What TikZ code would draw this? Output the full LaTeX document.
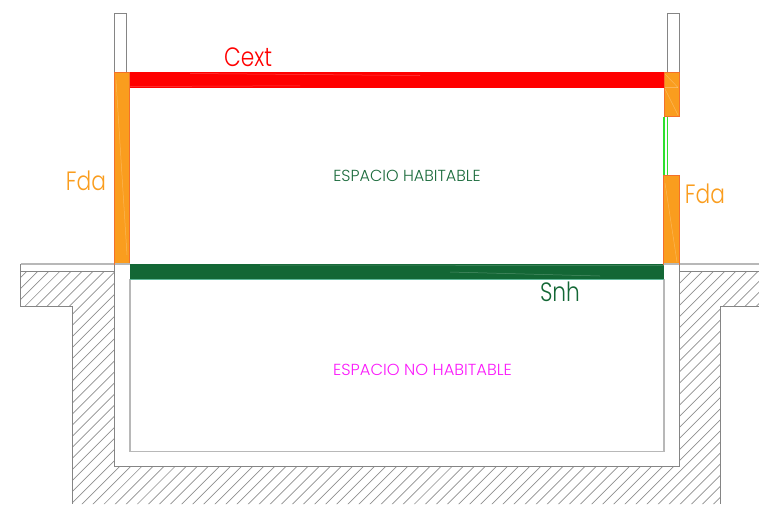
\documentclass[tikz,border=0pt]{standalone}
\usepackage{fontspec}
\setmainfont{Poppins Light}
\definecolor{wallgrey}{HTML}{858585}
\definecolor{lightgrey}{HTML}{B8B8B8}
\definecolor{hatchgrey}{HTML}{8E8E8E}
\definecolor{fdaorange}{HTML}{FA9D1E}
\definecolor{fdaedge}{HTML}{F4702A}
\definecolor{snhgreen}{HTML}{136735}
\definecolor{snhedge}{HTML}{5FB89A}
\definecolor{snhtext}{HTML}{1B6B3C}
\definecolor{noconc}{HTML}{FA18FA}
\definecolor{glass}{HTML}{2EE02E}
\tikzset{
  wall/.style={draw=wallgrey,line width=1pt,fill=white},
  wallline/.style={draw=wallgrey,line width=1pt},
  softline/.style={draw=lightgrey,line width=1.2pt},
  hatchline/.style={draw=hatchgrey,line width=0.7pt},
  fdafill/.style={fill=fdaorange,draw=fdaedge,line width=0.7pt},
  streak/.style={draw=white,opacity=0.25,line width=0.5pt},
  biglabel/.style={font=\fontsize{26.5}{26.5}\selectfont,inner sep=0pt},
  smalllabel/.style={font=\fontsize{16}{16}\selectfont,inner sep=0pt}
}
\newcommand{\narrowed}[1]{\scalebox{0.82}[1]{#1}}
\begin{document}
\begin{tikzpicture}[x=1pt,y=-1pt]
\useasboundingbox (0,0) rectangle (759,504);
% hatched ground
\begin{scope}
\clip (20.5,271.5) -- (114.5,271.5) -- (114.5,466) -- (679,466) -- (679,271.5) -- (759,271.5) -- (759,306) -- (720.7,306) -- (720.7,504) -- (72.5,504) -- (72.5,306) -- (20.5,306) -- cycle;
\foreach \k in {0,...,90} {
  \pgfmathsetmacro{\c}{298+11.08*\k}
  \draw[hatchline] (\c-240,240) -- (\c-520,520);
}
\end{scope}
% ground outlines
\draw[softline] (20.5,264) -- (114,264);
\draw[softline] (679,264) -- (759,264);
\draw[wallline] (20.5,264) -- (20.5,306) -- (72.5,306) -- (72.5,504);
\draw[wallline] (20.5,271.5) -- (114.5,271.5);
\draw[wallline] (679,271.5) -- (759,271.5);
\draw[wallline] (759,306) -- (720.7,306) -- (720.7,504);
\draw[wallline] (114.5,264) -- (114.5,466) -- (679,466) -- (679,264);
\draw[softline] (130,279) -- (130,451.5) -- (664,451.5) -- (664,279);
% parapets
\draw[wall] (114.5,72) -- (114.5,13.5) -- (126,13.5) -- (126,72);
\draw[wall] (667.5,72) -- (667.5,13.5) -- (679,13.5) -- (679,72);
% window
\draw[glass,line width=1.2pt] (664,116.5) -- (664,175);
\draw[glass,line width=1.2pt] (667.5,116.5) -- (667.5,175);
% roof
\fill[red] (129,72) rectangle (664.5,87.5);
\draw[streak] (190,73.5) -- (420,75.5);
\draw[streak] (130,86.5) -- (300,85.8);
% slab
\fill[snhgreen] (130,264) rectangle (664,279);
\draw[draw=snhedge,line width=0.7pt] (130,279) -- (664,279);
\draw[streak] (260,265) -- (664,265.5);
\draw[streak] (450,272) -- (600,276);
% facades
\draw[fdafill] (114.5,72) rectangle (129.5,264);
\draw[streak] (116,80) -- (127,255);
\draw[fdafill] (664.5,72) rectangle (679,116.5);
\draw[streak] (665,74) -- (678,87.5);
\draw[streak] (665,87.5) -- (678,87.5);
\draw[streak] (665,89) -- (678,115);
\draw[fdafill] (663.7,175.5) rectangle (679,264);
\draw[streak] (665,183) -- (677,262);
\draw[softline] (114.5,264) -- (129.5,264);
\draw[softline] (664,264) -- (679,264);
% labels
\node[biglabel,text=red,anchor=base] (cext) at (248,66) {\narrowed{Cext}};
\node[biglabel,text=fdaorange,anchor=base] (fdal) at (86,190.5) {\narrowed{Fda}};
\node[biglabel,text=fdaorange,anchor=base] (fdar) at (705,203.5) {\narrowed{Fda}};
\node[biglabel,text=snhgreen,anchor=base] (snh) at (560,301.7) {\narrowed{Snh}};
\node[smalllabel,text=snhtext,anchor=base] (hab) at (407,181) {ESPACIO HABITABLE};
\node[smalllabel,text=noconc,anchor=base] (nohab) at (422.5,375) {\scalebox{1.02}[1]{ESPACIO NO HABITABLE}};
\end{tikzpicture}
\end{document}
